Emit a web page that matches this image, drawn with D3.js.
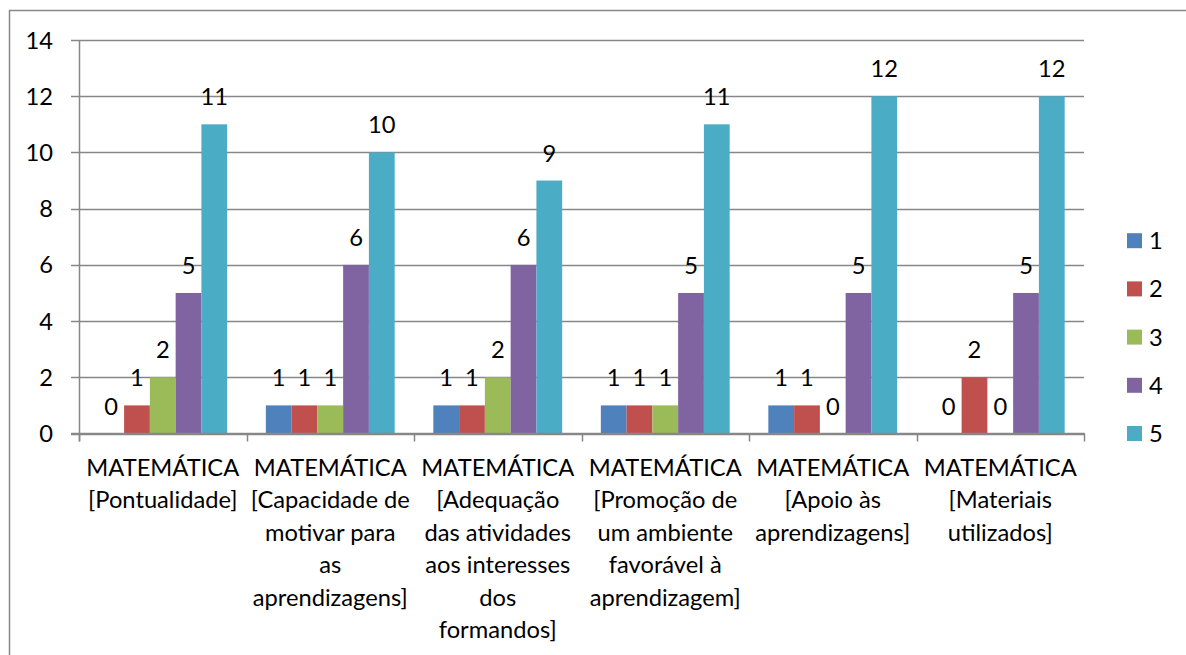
<!DOCTYPE html>
<meta charset="utf-8">
<head>
  <style>
    body { margin: 0; background: #fff; }
    svg text { font-family: Lato, "Open Sans", sans-serif; fill: #000; font-size: 23.7px; }
  </style>
  <script src="https://d3js.org/d3.v7.min.js"></script>
</head>
<body>
<div id="chart"></div>
<script>
  // *** data
  var categories = [
    ["MATEMÁTICA", "[Pontualidade]"],
    ["MATEMÁTICA", "[Capacidade de", "motivar para", "as", "aprendizagens]"],
    ["MATEMÁTICA", "[Adequação", "das atividades", "aos interesses", "dos", "formandos]"],
    ["MATEMÁTICA", "[Promoção de", "um ambiente", "favorável à", "aprendizagem]"],
    ["MATEMÁTICA", "[Apoio às", "aprendizagens]"],
    ["MATEMÁTICA", "[Materiais", "utilizados]"]
  ];
  var seriesNames = ["1", "2", "3", "4", "5"];
  var s1 = [0, 1, 1, 1, 1, 0];
  var s2 = [1, 1, 1, 1, 1, 2];
  var s3 = [2, 1, 2, 1, 0, 0];
  var s4 = [5, 6, 6, 5, 5, 5];
  var s5 = [11, 10, 9, 11, 12, 12];
  var yTicks = [0, 2, 4, 6, 8, 10, 12, 14];
  var colours = ["#4F81BD", "#C0504D", "#9BBB59", "#8064A2", "#4BACC6"];

  var series = [s1, s2, s3, s4, s5];

  var W = 1186, H = 655;
  var plot = { left: 79, right: 1084, top: 40, bottom: 433.5 };

  var svg = d3.select("#chart").append("svg")
    .attr("width", W)
    .attr("height", H);

  // outer frame (only top + left visible)
  svg.append("rect")
    .attr("x", 9.5).attr("y", 10.5)
    .attr("width", W + 20).attr("height", H + 20)
    .attr("fill", "none")
    .attr("stroke", "#888")
    .attr("stroke-width", 1.5);

  var x0 = d3.scaleBand()
    .domain(d3.range(categories.length))
    .range([plot.left, plot.right])
    .paddingInner(0);

  var x1 = d3.scaleBand()
    .domain(d3.range(seriesNames.length))
    .range([0, x0.bandwidth()])
    .paddingOuter(0.75)
    .paddingInner(0);

  var y = d3.scaleLinear()
    .domain([0, 14])
    .range([plot.bottom, plot.top]);

  // gridlines + y ticks
  var grid = svg.append("g");
  grid.selectAll("line")
    .data(yTicks)
    .enter().append("line")
    .attr("x1", plot.left - 8)
    .attr("x2", plot.right)
    .attr("y1", function(d) { return Math.round(y(d)) + 0.5; })
    .attr("y2", function(d) { return Math.round(y(d)) + 0.5; })
    .attr("stroke", "#878787")
    .attr("stroke-width", 1.5);

  grid.selectAll("text")
    .data(yTicks)
    .enter().append("text")
    .attr("x", 53)
    .attr("y", function(d) { return y(d); })
    .attr("dy", "0.36em")
    .attr("text-anchor", "end")
    .text(function(d) { return d; });

  // y axis line
  svg.append("line")
    .attr("x1", plot.left + 0.5).attr("x2", plot.left + 0.5)
    .attr("y1", plot.top).attr("y2", plot.bottom + 8)
    .attr("stroke", "#878787").attr("stroke-width", 1.5);

  // x ticks at category boundaries
  var bounds = d3.range(categories.length + 1).map(function(i) {
    return plot.left + i * x0.step();
  });
  svg.append("g").selectAll("line")
    .data(bounds)
    .enter().append("line")
    .attr("x1", function(d) { return Math.round(d) + 0.5; })
    .attr("x2", function(d) { return Math.round(d) + 0.5; })
    .attr("y1", plot.bottom)
    .attr("y2", plot.bottom + 8)
    .attr("stroke", "#878787").attr("stroke-width", 1.5);

  // bars
  var groups = svg.append("g").selectAll("g")
    .data(categories)
    .enter().append("g")
    .attr("transform", function(d, i) { return "translate(" + x0(i) + ",0)"; });

  groups.selectAll("rect")
    .data(function(d, i) { return series.map(function(s, k) { return { k: k, v: s[i] }; }); })
    .enter().append("rect")
    .attr("x", function(d) { return x1(d.k); })
    .attr("width", x1.bandwidth())
    .attr("y", function(d) { return y(d.v); })
    .attr("height", function(d) { return y(0) - y(d.v); })
    .attr("fill", function(d) { return colours[d.k]; });

  groups.selectAll("text.val")
    .data(function(d, i) { return series.map(function(s, k) { return { k: k, v: s[i] }; }); })
    .enter().append("text")
    .attr("class", "val")
    .attr("x", function(d) { return x1(d.k) + x1.bandwidth() / 2; })
    .attr("y", function(d) { return y(d.v) - 19; })
    .attr("text-anchor", "middle")
    .text(function(d) { return d.v; });

  // x axis line (drawn over bars' bottom)
  svg.append("line")
    .attr("x1", plot.left - 8).attr("x2", plot.right + 0.75)
    .attr("y1", plot.bottom).attr("y2", plot.bottom)
    .attr("stroke", "#878787").attr("stroke-width", 1.5);

  // category labels
  var labels = svg.append("g").selectAll("text")
    .data(categories)
    .enter().append("text")
    .attr("text-anchor", "middle")
    .attr("transform", function(d, i) {
      return "translate(" + (x0(i) + x0.bandwidth() / 2) + ",476)";
    });
  labels.selectAll("tspan")
    .data(function(d) { return d; })
    .enter().append("tspan")
    .attr("x", 0)
    .attr("y", function(d, j) { return j * 32.4; })
    .text(function(d) { return d; });

  // legend
  var legend = svg.append("g").selectAll("g")
    .data(seriesNames)
    .enter().append("g")
    .attr("transform", function(d, i) { return "translate(1127," + (240.7 + i * 48.2) + ")"; });
  legend.append("rect")
    .attr("x", 0).attr("y", -7.5)
    .attr("width", 15).attr("height", 15)
    .attr("fill", function(d, i) { return colours[i]; });
  legend.append("text")
    .attr("x", 22)
    .attr("dy", "0.36em")
    .text(function(d) { return d; });
</script>
</body>
